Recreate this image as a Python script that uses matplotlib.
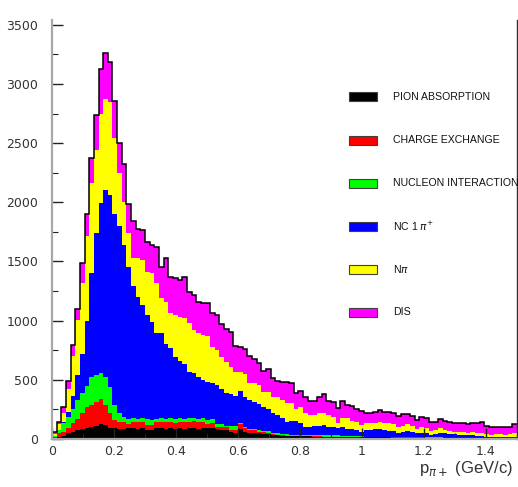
import numpy as np
import matplotlib
matplotlib.use("Agg")
import matplotlib.pyplot as plt
from matplotlib.patches import Rectangle
from matplotlib.ticker import MultipleLocator

plt.rcParams['font.family'] = ['Liberation Sans', 'DejaVu Sans']

# ---------------- data (stacked levels) ----------------
x_low, x_high, n_bins = 0.0, 1.5, 100

# cumulative stack level after each component (counts per bin)
level_pion_abs = [6, 14, 25, 48, 62, 76, 82, 90, 99, 110, 127, 118, 90, 90, 85, 88, 90, 90,
                  88, 90, 80, 76, 90, 92, 88, 90, 85, 92, 88, 90, 92, 86, 90,
                  90, 93, 82, 76, 76, 62, 54, 82, 62, 54, 54, 48, 45, 42, 34, 32, 28,
                  25, 25, 24, 23, 22, 22, 21, 21, 20, 20, 19, 18, 18, 18, 17, 17, 16,
                  14, 14, 13, 13, 13, 13, 12, 12, 12, 12, 11, 11, 11, 10, 10, 10, 10,
                  6, 6, 6, 6, 5, 5, 5, 5, 5, 5, 4, 4, 4, 4, 4, 4]
level_charge_ex = [20, 48, 62, 90, 132, 166, 217, 273, 287, 315, 338, 287, 217, 160, 147, 140, 130, 146,
                   140, 146, 120, 118, 140, 146, 140, 146, 135, 146, 140, 146, 150, 140, 146,
                   127, 138, 104, 104, 104, 76, 76, 127, 90, 76, 76, 62, 55, 50, 40, 36, 31,
                   28, 27, 26, 25, 24, 23, 22, 22, 21, 20, 20, 19, 19, 18, 18, 17, 17,
                   16, 16, 15, 15, 15, 15, 14, 14, 14, 14, 13, 13, 13, 12, 12, 12, 12,
                   8, 8, 8, 8, 7, 7, 7, 7, 7, 6, 6, 6, 6, 6, 6, 6]
level_nucleon = [34, 104, 132, 189, 251, 330, 386, 448, 527, 541, 555, 527, 442, 287, 217, 183, 170, 175,
                 170, 175, 165, 160, 170, 175, 170, 175, 165, 175, 170, 175, 180, 170, 175,
                 160, 165, 127, 127, 110, 110, 110, 138, 100, 87, 85, 76, 70, 65, 54, 50, 40,
                 39, 38, 37, 36, 35, 34, 33, 33, 32, 31, 30, 30, 28, 28, 27, 26, 25,
                 21, 21, 20, 20, 20, 20, 19, 19, 19, 18, 18, 18, 17, 17, 17, 16, 16,
                 10, 10, 10, 10, 9, 9, 9, 9, 9, 8, 8, 8, 8, 8, 8, 8]
level_nc1pi = [25, 75, 140, 230, 360, 540, 720, 1000, 1400, 1740, 1990, 2100, 2060, 1900, 1800, 1640, 1450, 1290,
               1200, 1133, 1050, 990, 893, 893, 800, 766, 696, 660, 630, 569, 560, 527, 499,
               485, 470, 456, 420, 386, 380, 364, 409, 358, 330, 316, 296, 273, 251, 217, 203, 175,
               147, 155, 150, 138, 104, 104, 108, 110, 118, 104, 100, 90, 100, 82, 82, 76, 62,
               76, 76, 82, 82, 76, 70, 70, 54, 62, 70, 62, 48, 54, 48, 34, 42, 48,
               48, 42, 40, 34, 34, 31, 34, 25, 25, 20, 20, 20, 20, 14, 20, 20]
level_npi = [45, 125, 222, 419, 700, 1009, 1318, 1711, 2161, 2440, 2750, 2870, 2850, 2540, 2250, 2000, 1740, 1530,
             1527, 1513, 1415, 1400, 1316, 1189, 1161, 1062, 1048, 1034, 1020, 978, 921, 893, 879,
             871, 780, 752, 690, 654, 611, 569, 569, 550, 476, 471, 456, 400, 400, 358, 358, 330,
             307, 301, 251, 273, 217, 203, 203, 223, 217, 203, 183, 132, 175, 175, 155, 140, 120,
             138, 132, 132, 146, 138, 138, 124, 104, 110, 124, 110, 82, 104, 96, 70, 76, 90,
             76, 70, 62, 62, 56, 54, 59, 48, 48, 42, 34, 39, 42, 34, 39, 48]
level_dis = [60, 140, 270, 490, 790, 1100, 1490, 1905, 2370, 2738, 3123, 3258, 3185, 2857, 2499, 2322, 1986, 1845,
             1775, 1767, 1668, 1640, 1626, 1457, 1527, 1372, 1358, 1344, 1372, 1246, 1217, 1161, 1147,
             1153, 1068, 1048, 972, 930, 907, 789, 775, 764, 705, 676, 640, 575, 589, 513, 493, 482,
             485, 471, 386, 409, 358, 324, 321, 358, 380, 321, 316, 259, 324, 290, 280, 250, 240,
             217, 217, 225, 245, 225, 225, 217, 194, 208, 211, 197, 161, 189, 180, 141, 141, 166,
             155, 146, 138, 132, 132, 127, 138, 132, 144, 110, 99, 99, 99, 99, 104, 124]

labels = ["PION ABSORPTION", "CHARGE EXCHANGE", "NUCLEON INTERACTION",
          r"NC 1 $\pi^{+}$", r"N$\pi$", "DIS"]
colors = ["#000000", "#ff0000", "#00ff00", "#0000ff", "#ffff00", "#ff00ff"]
levels = [level_pion_abs, level_charge_ex, level_nucleon, level_nc1pi, level_npi, level_dis]

x_ticks = [0, 0.2, 0.4, 0.6, 0.8, 1.0, 1.2, 1.4]
x_ticklabels = ["0", "0.2", "0.4", "0.6", "0.8", "1", "1.2", "1.4"]
y_ticks = [0, 500, 1000, 1500, 2000, 2500, 3000, 3500]

# ---------------- figure ----------------
W, H = 518, 487
fig = plt.figure(figsize=(W / 100, H / 100), dpi=100)
ax = fig.add_axes([52 / W, 1 - 439 / H, (517 - 52) / W, (439 - 20) / H])

edges = np.linspace(x_low, x_high, n_bins + 1)
prev = np.zeros(n_bins)
for lev, col in zip(levels, colors):
    lev = np.asarray(lev, dtype=float)
    ax.stairs(lev, edges, baseline=prev, fill=True, color=col, lw=0)
    prev = lev
ax.stairs(np.asarray(level_dis, float), edges, baseline=None, color="black", lw=1.1)

ax.set_xlim(x_low, x_high)
ax.set_ylim(0, 3540)
ax.set_xticks(x_ticks)
ax.set_xticklabels(x_ticklabels)
ax.set_yticks(y_ticks)
ax.xaxis.set_minor_locator(MultipleLocator(0.1))
ax.yaxis.set_minor_locator(MultipleLocator(250))

ax.spines["top"].set_visible(False)
for s in ["left", "bottom"]:
    ax.spines[s].set_color("#a8a8a8")
    ax.spines[s].set_linewidth(1.6)
ax.spines["right"].set_color("#303030")
ax.spines["right"].set_linewidth(1.0)

ax.tick_params(axis="both", which="major", direction="in", length=8, width=1.0,
               color="#222222", labelsize=9, labelcolor="#333333")
ax.tick_params(axis="both", which="minor", direction="in", length=4, width=0.8, color="#222222")
ax.tick_params(axis="y", which="both", right=False)
ax.tick_params(axis="y", pad=10)
ax.tick_params(axis="x", pad=4)
for t in ax.get_xticklabels() + ax.get_yticklabels():
    t.set_family(["DejaVu Sans"])

fig.text(513 / W, 1 - 473 / H, r"p$_{\pi+}$ (GeV/c)", ha="right", va="baseline",
         fontsize=12, color="#333333")

# legend
box_centers = [96.7, 140, 183, 226, 269, 312]
for lab, col, yc in zip(labels, colors, box_centers):
    fig.patches.append(Rectangle((349 / W, 1 - (yc + 4.5) / H), 28 / W, 9 / H,
                                 transform=fig.transFigure, facecolor=col,
                                 edgecolor="#404040", lw=0.8))
    fig.text(393 / W, 1 - yc / H, lab, ha="left", va="center", fontsize=7.6,
             color="#111111")

fig.savefig("out.png", dpi=100)
